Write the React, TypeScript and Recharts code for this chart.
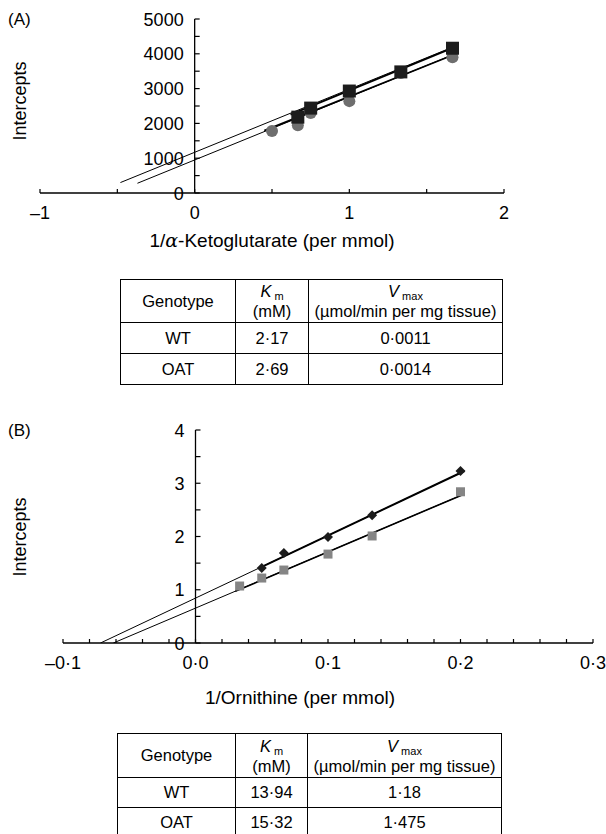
import React from 'react';
import { ComposedChart, XAxis, YAxis, Line, Scatter, ReferenceLine } from 'recharts';

const FONT = '"Liberation Sans", Arial, Helvetica, sans-serif';

// ---- panel A: 1/alpha-ketoglutarate ----
const akgSquareX = [0.667, 0.75, 1, 1.333, 1.667];
const akgSquareY = [2180, 2440, 2930, 3480, 4160];
const akgCircleX = [0.5, 0.667, 0.75, 1, 1.333, 1.667];
const akgCircleY = [1780, 1950, 2300, 2640, 3450, 3900];
const akgUpperThinX = [-0.48, 1.7];
const akgUpperThinY = [300, 4250];
const akgLowerThinX = [-0.37, 1.63];
const akgLowerThinY = [280, 3900];
const akgUpperThickX = [0.62, 1.7];
const akgUpperThickY = [2250, 4230];
const akgLowerThickX = [0.45, 1.65];
const akgLowerThickY = [1790, 3930];
const akgXTicks = [-1, -0.5, 0, 0.5, 1, 1.5, 2];
const akgXLabels = ['–1', '', '0', '', '1', '', '2'];
const akgYTicks = [0, 500, 1000, 1500, 2000, 2500, 3000, 3500, 4000, 4500, 5000];
const akgYLabels = ['0', '', '1000', '', '2000', '', '3000', '', '4000', '', '5000'];

// ---- panel B: 1/ornithine ----
const ornDiamondX = [0.05, 0.0667, 0.1, 0.1333, 0.2];
const ornDiamondY = [1.41, 1.69, 1.99, 2.4, 3.23];
const ornSquareX = [0.0333, 0.05, 0.0667, 0.1, 0.1333, 0.2];
const ornSquareY = [1.07, 1.22, 1.37, 1.67, 2.01, 2.84];
const ornUpperThinX = [-0.0717, 0.203];
const ornUpperThinY = [0, 3.23];
const ornLowerThinX = [-0.062, 0.203];
const ornLowerThinY = [0, 2.8];
const ornUpperThickX = [0.05, 0.203];
const ornUpperThickY = [1.43, 3.23];
const ornLowerThickX = [0.03, 0.203];
const ornLowerThickY = [0.97, 2.8];
const ornXTicks = [-0.1, -0.08, -0.06, -0.04, -0.02, 0, 0.02, 0.04, 0.06, 0.08, 0.1, 0.12, 0.14, 0.16, 0.18, 0.2, 0.22, 0.24, 0.26, 0.28, 0.3];
const ornXLabels: Record<string, string> = { '-0.1': '–0·1', '0': '0·0', '0.1': '0·1', '0.2': '0·2', '0.3': '0·3' };
const ornYTicks = [0, 0.5, 1, 1.5, 2, 2.5, 3, 3.5, 4];
const ornYLabels = ['0', '', '1', '', '2', '', '3', '', '4'];

// ---- tables ----
const genotypes = ['WT', 'OAT'];
const kmA = ['2·17', '2·69'];
const vmaxA = ['0·0011', '0·0014'];
const kmB = ['13·94', '15·32'];
const vmaxB = ['1·18', '1·475'];

const pts = (xs: number[], ys: number[]) => xs.map((x, i) => ({ x, y: ys[i] }));

const rectShape = (size: number, fill: string) => (p: any) => (
  <rect x={p.cx - size / 2} y={p.cy - size / 2} width={size} height={size} fill={fill} />
);
const circleShape = (r: number, fill: string) => (p: any) => <circle cx={p.cx} cy={p.cy} r={r} fill={fill} />;
const diamondShape = (r: number, fill: string) => (p: any) => (
  <polygon
    points={`${p.cx},${p.cy - r} ${p.cx + r},${p.cy} ${p.cx},${p.cy + r} ${p.cx - r},${p.cy}`}
    fill={fill}
  />
);

function XTick(props: any) {
  const { x, axisY, label } = props;
  return (
    <g>
      <line x1={x} x2={x} y1={axisY} y2={axisY - 4} stroke="#000" strokeWidth={1.2} />
      {label ? (
        <text x={x} y={axisY + 26} textAnchor="middle" fontSize={18} fontFamily={FONT} fill="#000">
          {label}
        </text>
      ) : null}
    </g>
  );
}

function YTick(props: any) {
  const { y, axisX, label } = props;
  return (
    <g>
      <line x1={axisX} x2={axisX + 5} y1={y} y2={y} stroke="#000" strokeWidth={1.2} />
      {label ? (
        <text x={axisX - 11} y={y + 6.5} textAnchor="end" fontSize={18} fontFamily={FONT} fill="#000">
          {label}
        </text>
      ) : null}
    </g>
  );
}

const A_H = 250;
const A_M = { top: 19, right: 102, bottom: 27, left: 39 };
const A_PLOT_L = 40;
const A_PLOT_B = 193;
const A_DX = [-1, 2];
const A_X0 = A_PLOT_L + ((606 - A_PLOT_L - A_M.right) * (0 - A_DX[0])) / (A_DX[1] - A_DX[0]);

const B_TOP = 390;
const B_H = 290;
const B_M = { top: 40, right: 13, bottom: 7, left: 62 };
const B_PLOT_L = 63;
const B_PLOT_B = 253;
const B_DX = [-0.1, 0.3];
const B_X0 = B_PLOT_L + ((606 - B_PLOT_L - B_M.right) * (0 - B_DX[0])) / (B_DX[1] - B_DX[0]);

function PanelA() {
  return (
    <ComposedChart width={606} height={A_H} margin={A_M}>
      <XAxis
        type="number" dataKey="x" domain={A_DX} ticks={akgXTicks} interval={0} height={30}
        allowDataOverflow axisLine={{ stroke: '#000', strokeWidth: 1.3 }} tickLine={false}
        tick={(p: any) => <XTick {...p} axisY={A_PLOT_B} label={akgXLabels[akgXTicks.indexOf(p.payload.value)]} />}
      />
      <YAxis
        type="number" dataKey="y" domain={[0, 5000]} ticks={akgYTicks} interval={0} width={1}
        allowDataOverflow axisLine={false} tickLine={false}
        tick={(p: any) => <YTick {...p} axisX={A_X0} label={akgYLabels[akgYTicks.indexOf(p.payload.value)]} />}
      />
      <ReferenceLine x={0} stroke="#000" strokeWidth={1.3} />
      <Scatter data={pts(akgCircleX, akgCircleY)} shape={circleShape(6, '#6e6e6e')} isAnimationActive={false} />
      <Scatter data={pts(akgSquareX, akgSquareY)} shape={rectShape(13, '#1c1c1c')} isAnimationActive={false} />
      <Line data={pts(akgUpperThinX, akgUpperThinY)} dataKey="y" type="linear" stroke="#000" strokeWidth={1} dot={false} isAnimationActive={false} />
      <Line data={pts(akgLowerThinX, akgLowerThinY)} dataKey="y" type="linear" stroke="#000" strokeWidth={1} dot={false} isAnimationActive={false} />
      <Line data={pts(akgUpperThickX, akgUpperThickY)} dataKey="y" type="linear" stroke="#000" strokeWidth={1.8} dot={false} isAnimationActive={false} />
      <Line data={pts(akgLowerThickX, akgLowerThickY)} dataKey="y" type="linear" stroke="#000" strokeWidth={1.8} dot={false} isAnimationActive={false} />
    </ComposedChart>
  );
}

function PanelB() {
  return (
    <ComposedChart width={606} height={B_H} margin={B_M}>
      <XAxis
        type="number" dataKey="x" domain={B_DX} ticks={ornXTicks} interval={0} height={30}
        allowDataOverflow axisLine={{ stroke: '#000', strokeWidth: 1.3 }} tickLine={false}
        tick={(p: any) => <XTick {...p} axisY={B_PLOT_B} label={ornXLabels[String(Math.round(p.payload.value * 100) / 100)]} />}
      />
      <YAxis
        type="number" dataKey="y" domain={[0, 4]} ticks={ornYTicks} interval={0} width={1}
        allowDataOverflow axisLine={false} tickLine={false}
        tick={(p: any) => <YTick {...p} axisX={B_X0} label={ornYLabels[ornYTicks.indexOf(p.payload.value)]} />}
      />
      <ReferenceLine x={0} stroke="#000" strokeWidth={1.3} />
      <Scatter data={pts(ornSquareX, ornSquareY)} shape={rectShape(9, '#858585')} isAnimationActive={false} />
      <Scatter data={pts(ornDiamondX, ornDiamondY)} shape={diamondShape(5, '#1c1c1c')} isAnimationActive={false} />
      <Line data={pts(ornUpperThinX, ornUpperThinY)} dataKey="y" type="linear" stroke="#000" strokeWidth={1} dot={false} isAnimationActive={false} />
      <Line data={pts(ornLowerThinX, ornLowerThinY)} dataKey="y" type="linear" stroke="#000" strokeWidth={1} dot={false} isAnimationActive={false} />
      <Line data={pts(ornUpperThickX, ornUpperThickY)} dataKey="y" type="linear" stroke="#000" strokeWidth={2} dot={false} isAnimationActive={false} />
      <Line data={pts(ornLowerThickX, ornLowerThickY)} dataKey="y" type="linear" stroke="#000" strokeWidth={1.6} dot={false} isAnimationActive={false} />
    </ComposedChart>
  );
}

const cell: React.CSSProperties = {
  border: '1.3px solid #000',
  textAlign: 'center',
  verticalAlign: 'middle',
  padding: 0,
  fontSize: 16.5,
};

const subStyle: React.CSSProperties = { fontSize: 11, position: 'relative', top: 3, marginLeft: 3 };

function KineticsTable({ km, vmax, style, cols, rowH }: { km: string[]; vmax: string[]; style: React.CSSProperties; cols: number[]; rowH: number[] }) {
  return (
    <table style={{ position: 'absolute', borderCollapse: 'collapse', fontFamily: FONT, tableLayout: 'fixed', ...style }}>
      <colgroup>
        {cols.map((w, i) => <col key={i} style={{ width: w }} />)}
      </colgroup>
      <tbody>
        <tr style={{ height: rowH[0] }}>
          <td style={cell}>Genotype</td>
          <td style={{ ...cell, lineHeight: '18px' }}>
            <div><i>K</i><span style={subStyle}>m</span></div>
            <div>(mM)</div>
          </td>
          <td style={{ ...cell, lineHeight: '18px' }}>
            <div><i>V</i><span style={subStyle}>max</span></div>
            <div style={{ whiteSpace: 'nowrap' }}>(µmol/min per mg tissue)</div>
          </td>
        </tr>
        {genotypes.map((g, i) => (
          <tr key={g} style={{ height: rowH[i + 1] }}>
            <td style={cell}>{g}</td>
            <td style={cell}>{km[i]}</td>
            <td style={cell}>{vmax[i]}</td>
          </tr>
        ))}
      </tbody>
    </table>
  );
}

const txt: React.CSSProperties = { position: 'absolute', fontFamily: FONT, fontSize: 18, color: '#000', whiteSpace: 'nowrap', lineHeight: 1 };

export default function App() {
  return (
    <div style={{ position: 'absolute', left: 0, top: 0, width: 606, height: 834, background: '#fff', overflow: 'hidden' }}>
      <div style={{ position: 'absolute', left: 0, top: 0 }}>
        <PanelA />
      </div>
      <div style={{ ...txt, left: 8, top: 11, fontSize: 17 }}>(A)</div>
      <div style={{ ...txt, left: 20, top: 101, transform: 'translate(-50%, -50%) rotate(-90deg)' }}>Intercepts</div>
      <div style={{ ...txt, left: 272, top: 240, transform: 'translate(-50%, -50%)', fontSize: 19 }}>
        1/<span style={{ fontFamily: '"DejaVu Serif", serif', fontStyle: 'italic' }}>α</span>-Ketoglutarate (per mmol)
      </div>
      <KineticsTable km={kmA} vmax={vmaxA} style={{ left: 120, top: 279 }} cols={[115, 73, 194]} rowH={[43, 31, 31]} />

      <div style={{ position: 'absolute', left: 0, top: B_TOP }}>
        <PanelB />
      </div>
      <div style={{ ...txt, left: 8, top: 422, fontSize: 17 }}>(B)</div>
      <div style={{ ...txt, left: 20, top: 537, transform: 'translate(-50%, -50%) rotate(-90deg)' }}>Intercepts</div>
      <div style={{ ...txt, left: 300, top: 697, transform: 'translate(-50%, -50%)', fontSize: 19 }}>1/Ornithine (per mmol)</div>
      <KineticsTable km={kmB} vmax={vmaxB} style={{ left: 117, top: 733 }} cols={[118, 72, 194]} rowH={[44, 30, 30]} />
    </div>
  );
}
